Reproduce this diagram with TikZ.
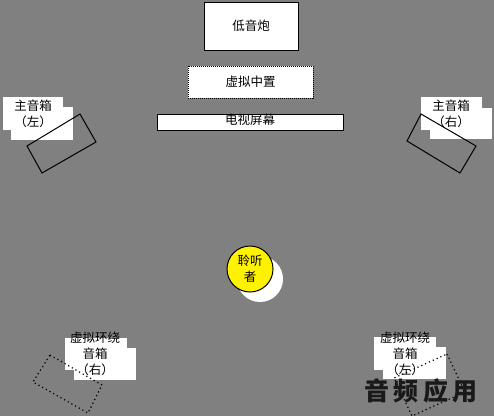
\documentclass[tikz,border=0pt]{standalone}
\usepackage{fontspec}
\setmainfont{Noto Sans CJK SC}
\newfontfamily\markfont[LetterSpace=18]{Noto Sans CJK SC}
\usepackage{tikz}
\usepackage{xcolor}
\definecolor{stagegray}{RGB}{128,128,128}
\definecolor{markgray}{RGB}{25,25,25}
\tikzset{
    plain-box/.style = {draw=black, fill=white, line width=1pt, rectangle, inner sep=0pt, font=\fontsize{12.5}{16}\selectfont},
    dotted-box/.style = {draw=black, fill=white, line width=1pt, dash pattern=on 1pt off 1pt, rectangle, inner sep=0pt, font=\fontsize{12.5}{16}\selectfont},
    cn-text/.style = {font=\fontsize{12.5}{16}\selectfont, align=center, inner sep=0pt},
    speaker/.style = {draw=black, line width=1pt},
    surround/.style = {draw=black, line width=1.2pt, dash pattern=on 1.2pt off 3pt},
    listener-disc/.style = {circle, draw=black, fill=yellow, line width=1pt, minimum size=46pt, inner sep=0pt, font=\fontsize{12.5}{16}\selectfont, align=center},
    watermark/.style = {text=markgray, font=\markfont\bfseries\fontsize{25}{25}\selectfont, inner sep=0pt},
}
\begin{document}
\begin{tikzpicture}[x=1pt,y=-1pt]
\fill[stagegray] (0,0) rectangle (494,416);
\useasboundingbox (0,0) rectangle (494,416);

% front: subwoofer, centre, screen
\node[plain-box, minimum width=94pt, minimum height=48pt] (sub) at (251,26) {低音炮};
\node[dotted-box, minimum width=125pt, minimum height=32pt] (center) at (250.5,82) {虚拟中置};
\node[plain-box, minimum width=186pt, minimum height=16pt] (tv) at (250,122) {};
\node[cn-text] (tv-text) at (250,120) {电视屏幕};

% main speakers
\fill[white] (3,97) rectangle (63,130);
\fill[white] (11,107) rectangle (73,140);
\node[cn-text] (main-left) at (33,113.5) {主音箱\\（左）};
\draw[speaker] (27,146) -- (80,114) -- (96,142) -- (42,173) -- cycle;

\fill[white] (421,97) rectangle (482,130);
\fill[white] (430,108) rectangle (492,139);
\node[cn-text] (main-right) at (451,113.5) {主音箱\\（右）};
\draw[speaker] (421,114) -- (476,146) -- (460,173) -- (407,141) -- cycle;

% listener
\fill[white] (260,279) circle (23pt);
\node[listener-disc] (listener) at (250,269) {聆听\\者};

% surround speakers
\fill[white] (65,338) rectangle (127,370);
\fill[white] (74,348) rectangle (136,380);
\node[cn-text] (surr-right) at (95,353.5) {虚拟环绕\\音箱\\（右）};
\draw[surround] (50,355) -- (102,385) -- (88,413) -- (33,382) -- cycle;

\fill[white] (374,337) rectangle (436,370);
\fill[white] (383,347) rectangle (446,379);
\node[cn-text] (surr-left) at (405,353.5) {虚拟环绕\\音箱\\（左）};
\draw[surround] (447,354) -- (465,392) -- (412,416) -- (394,378) -- cycle;

\node[watermark] (logo) at (421,391) {音频应用};
\end{tikzpicture}
\end{document}
